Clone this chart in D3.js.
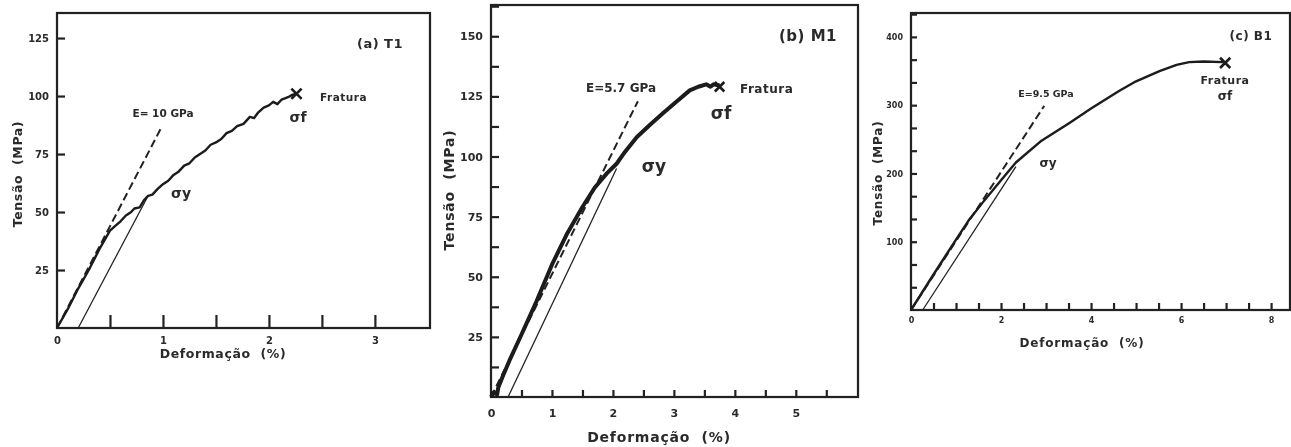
<!DOCTYPE html>
<html>
<head>
<meta charset="utf-8">
<script src="https://cdn.jsdelivr.net/npm/d3@7"></script>
<style>
  body { margin: 0; background: #fff; }
  text { font-family: "DejaVu Sans", "Liberation Sans", sans-serif; font-weight: bold; fill: #2a2a2a; }
</style>
</head>
<body>
<svg id="chart"></svg>
<script>
// (a) T1 stress-strain curve: [strain %, stress MPa]
var t1Curve = [[0,0],[0.1,8],[0.2,17],[0.3,25],[0.4,34],[0.5,42],[0.55,44],[0.6,46],[0.65,48.5],[0.7,50],
  [0.73,51.5],[0.78,52],[0.82,55],[0.86,57],[0.9,57.5],[0.95,60],[1.0,62],[1.05,63.5],[1.1,66],[1.15,67.5],
  [1.2,70],[1.25,71],[1.3,73.5],[1.35,75],[1.4,76.5],[1.45,79],[1.5,80],[1.55,81.5],[1.6,84],[1.65,85],
  [1.7,87],[1.76,88],[1.82,91],[1.86,90.5],[1.9,93],[1.95,95],[2.0,96],[2.04,97.5],[2.08,96.5],[2.12,98.5],
  [2.18,99.5],[2.22,100.5],[2.26,101]];
var t1Modulus = [[0,0],[0.98,86]];
var t1Offset = [[0.2,0],[0.86,57]];
var t1Fracture = [2.26,101];

// (b) M1
var m1Curve = [[0,0],[0.05,2],[0.1,1],[0.12,4],[0.2,9],[0.3,15],[0.5,26],[0.75,40],[1.0,55],[1.25,68],
  [1.5,79],[1.7,87],[1.9,93],[2.06,97],[2.2,102],[2.39,108],[2.6,113],[2.82,118],[3.05,123],[3.26,127.5],
  [3.4,129],[3.53,130],[3.6,129],[3.65,130],[3.75,129.5]];
var m1Modulus = [[0,0],[2.41,123]];
var m1Offset = [[0.28,0],[2.06,95]];
var m1Fracture = [3.75,129];

// (c) B1
var b1Curve = [[0,0],[0.5,52],[1.0,103],[1.3,133],[1.6,158],[2.0,190],[2.33,216],[2.9,248],[3.52,274],
  [4.0,295],[4.63,321],[5.0,335],[5.52,350],[5.9,359],[6.18,363],[6.5,364],[6.93,363]];
var b1Modulus = [[0,0],[2.96,299]];
var b1Offset = [[0.26,0],[2.33,210]];
var b1Fracture = [6.98,362];

var xLabelsA = [0,1,2,3], yLabelsA = [25,50,75,100,125];
var xLabelsB = [0,1,2,3,4,5], yLabelsB = [25,50,75,100,125,150];
var xLabelsC = [0,2,4,6,8], yLabelsC = [100,200,300,400];

var panels = [
  { left: 57, right: 430, top: 13, bottom: 328, xMax: 3.52, yMax: 135.8,
    xMinor: 0.5, yMinor: 25, xLabels: xLabelsA, yLabels: yLabelsA,
    xTick: 13, yTick: 8, tickFont: 10, xPad: 9, curveW: 2.4,
    curve: t1Curve, modulus: t1Modulus, offset: t1Offset, fracture: t1Fracture,
    title: "(a) T1", titlePos: [380,48], titleFont: 13,
    eText: "E= 10 GPa", ePos: [163,117], eFont: 10.5,
    fratPos: [320,101], fratAnchor: "start", fratFont: 10.5, sfPos: [298,122], syPos: [181,198], sigFont: 14,
    yTitlePos: [18,174], xTitlePos: [223,358], axFont: 12.5, axSpace: 0.6 },
  { left: 491, right: 858, top: 5, bottom: 397, xMax: 6.02, yMax: 163,
    xMinor: 0.5, yMinor: 12.5, xLabels: xLabelsB, yLabels: yLabelsB,
    xTick: 7, yTick: 8, tickFont: 11, xPad: 12, curveW: 4,
    curve: m1Curve, modulus: m1Modulus, offset: m1Offset, fracture: m1Fracture,
    title: "(b) M1", titlePos: [808,41], titleFont: 15,
    eText: "E=5.7 GPa", ePos: [621,92], eFont: 12,
    fratPos: [740,93], fratAnchor: "start", fratFont: 12, sfPos: [721,119], syPos: [654,172], sigFont: 17,
    yTitlePos: [449,190], xTitlePos: [659,442], axFont: 14, axSpace: 0.8 },
  { left: 911, right: 1290, top: 13, bottom: 310, xMax: 8.42, yMax: 435,
    xMinor: 0.5, yMinor: 100/3, xLabels: xLabelsC, yLabels: yLabelsC,
    xTick: 7, yTick: 6, tickFont: 8, xPad: 7, curveW: 2.4,
    curve: b1Curve, modulus: b1Modulus, offset: b1Offset, fracture: b1Fracture,
    title: "(c) B1", titlePos: [1251,40], titleFont: 12,
    eText: "E=9.5 GPa", ePos: [1046,97], eFont: 9.5,
    fratPos: [1225,84], fratAnchor: "middle", fratFont: 11, sfPos: [1225,100], syPos: [1048,167], sigFont: 12,
    yTitlePos: [878,173], xTitlePos: [1082,347], axFont: 12, axSpace: 0.8 }
];

var width = 1291, height = 447;
var svg = d3.select("#chart").attr("width", width).attr("height", height);
svg.append("rect").attr("width", width).attr("height", height).attr("fill", "#fff");

var defs = svg.append("defs");
defs.append("filter").attr("id", "scan")
    .append("feGaussianBlur").attr("stdDeviation", 0.5);

var root = svg.append("g").attr("filter", "url(#scan)");

panels.forEach(function(p) {
  var x = d3.scaleLinear().domain([0, p.xMax]).range([p.left, p.right]);
  var y = d3.scaleLinear().domain([0, p.yMax]).range([p.bottom, p.top]);
  var g = root.append("g");
  var fmt = function(list) { return function(d) {
    var hit = list.find(v => Math.abs(v - d) < 1e-6);
    return hit === undefined ? "" : String(hit);
  }; };

  // minor ticks every step, none on the frame edge
  var xt = d3.range(0, p.xMax - 0.15, p.xMinor);
  var yt = d3.range(p.yMinor, p.yMax, p.yMinor);

  var xAxis = g.append("g")
      .attr("transform", "translate(0," + p.bottom + ")")
      .call(d3.axisBottom(x).tickValues(xt).tickSize(-p.xTick).tickPadding(p.xPad).tickFormat(fmt(p.xLabels)));
  var yAxis = g.append("g")
      .attr("transform", "translate(" + p.left + ",0)")
      .call(d3.axisLeft(y).tickValues(yt).tickSize(-p.yTick).tickPadding(8).tickFormat(fmt(p.yLabels)));
  [xAxis, yAxis].forEach(function(a) {
    a.select(".domain").remove();
    a.selectAll(".tick line").attr("stroke", "#222").attr("stroke-width", 2.2);
    a.selectAll(".tick text").attr("font-size", p.tickFont).attr("fill", "#2a2a2a")
      .style("font-family", "'DejaVu Sans', sans-serif").style("font-weight", "bold");
  });
  xAxis.selectAll(".tick").filter(d => d === 0).select("line").remove();

  // frame
  g.append("rect")
    .attr("x", p.left).attr("y", p.top)
    .attr("width", p.right - p.left).attr("height", p.bottom - p.top)
    .attr("fill", "none").attr("stroke", "#222").attr("stroke-width", 2.2);

  var line = d3.line().x(d => x(d[0])).y(d => y(d[1]));

  g.append("path").datum(p.offset).attr("d", line)
    .attr("fill", "none").attr("stroke", "#222").attr("stroke-width", 1.3);
  g.append("path").datum(p.modulus).attr("d", line)
    .attr("fill", "none").attr("stroke", "#222").attr("stroke-width", 2)
    .attr("stroke-dasharray", "8,4");
  g.append("path").datum(p.curve).attr("d", line)
    .attr("fill", "none").attr("stroke", "#1a1a1a").attr("stroke-width", p.curveW)
    .attr("stroke-linejoin", "round");

  g.append("path")
    .attr("d", d3.symbol(d3.symbolX, p.curveW > 3 ? 60 : 70)())
    .attr("transform", "translate(" + x(p.fracture[0]) + "," + y(p.fracture[1]) + ")")
    .attr("fill", "none").attr("stroke", "#1a1a1a").attr("stroke-width", 2.6);

  // annotations
  g.append("text").attr("x", p.titlePos[0]).attr("y", p.titlePos[1])
    .attr("text-anchor", "middle").attr("font-size", p.titleFont).attr("letter-spacing", 0.5).text(p.title);
  g.append("text").attr("x", p.ePos[0]).attr("y", p.ePos[1])
    .attr("text-anchor", "middle").attr("font-size", p.eFont).text(p.eText);
  g.append("text").attr("x", p.fratPos[0]).attr("y", p.fratPos[1])
    .attr("text-anchor", p.fratAnchor).attr("font-size", p.fratFont).attr("letter-spacing", 0.5).text("Fratura");
  g.append("text").attr("x", p.sfPos[0]).attr("y", p.sfPos[1])
    .attr("text-anchor", "middle").attr("font-size", p.sigFont).text("σf");
  g.append("text").attr("x", p.syPos[0]).attr("y", p.syPos[1])
    .attr("text-anchor", "middle").attr("font-size", p.sigFont).text("σy");

  g.append("text")
    .attr("transform", "translate(" + p.yTitlePos[0] + "," + p.yTitlePos[1] + ") rotate(-90)")
    .attr("text-anchor", "middle").attr("dy", "0.35em").attr("font-size", p.axFont)
    .attr("letter-spacing", p.axSpace).style("white-space", "pre").text("Tensão  (MPa)");
  g.append("text").attr("x", p.xTitlePos[0]).attr("y", p.xTitlePos[1])
    .attr("text-anchor", "middle").attr("font-size", p.axFont)
    .attr("letter-spacing", p.axSpace).style("white-space", "pre").text("Deformação  (%)");
});
</script>
</body>
</html>
